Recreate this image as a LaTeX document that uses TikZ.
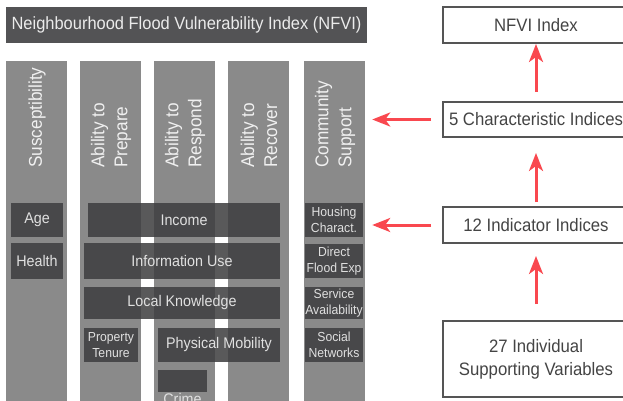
\documentclass[tikz,border=0pt]{standalone}
\usepackage{fontspec}
\setmainfont{Liberation Sans}[FakeStretch=0.93]
\usetikzlibrary{arrows.meta}
\definecolor{titlegray}{HTML}{535355}
\definecolor{colgray}{HTML}{8A8A8A}
\definecolor{boxgray}{HTML}{3E3E40}
\definecolor{framegray}{HTML}{555555}
\definecolor{txtgray}{HTML}{444444}
\definecolor{arrowred}{HTML}{F9484F}
\tikzset{
  col/.style={fill=colgray, draw=none, minimum width=61pt, minimum height=360pt, anchor=north, inner sep=0},
  coltext/.style={rotate=90, anchor=west, inner sep=0, text=white!94!black, align=left, font=\fontsize{18.5}{23}\selectfont},
  ibox/.style={fill=boxgray, fill opacity=0.86, text opacity=1, text=white!88!black, inner sep=0, align=center},
  bigtxt/.style={font=\fontsize{15.4}{19}\selectfont},
  smalltxt/.style={font=\fontsize{13.1}{16}\selectfont},
  rbox/.style={draw=framegray, line width=2pt, fill=white, text=txtgray, minimum width=186pt, inner sep=0, align=center, font=\fontsize{18}{23}\selectfont},
  redarrow/.style={draw=arrowred, line width=3pt, -{Stealth[length=18pt,width=14pt,inset=5pt]}}
}
\begin{document}
\begin{tikzpicture}[x=1pt,y=-1pt]
\useasboundingbox (0,0) rectangle (623,401);
\fill[white] (0,0) rectangle (623,401);
% title
\node[fill=titlegray, minimum width=361pt, minimum height=36pt, inner sep=0, text=white!92!black, font=\fontsize{17.7}{22}\selectfont] (title) at (186.5,25) {Neighbourhood Flood Vulnerability Index (NFVI)};
% columns
\node[col] (c1) at (36.5,61) {};
\node[col] (c2) at (110.5,61) {};
\node[col] (c3) at (184.5,61) {};
\node[col] (c4) at (258.5,61) {};
\node[col] (c5) at (334.5,61) {};
\node[coltext] (t1) at (37,168) {Susceptibility};
\node[coltext] (t2) at (111,168) {Ability to\\Prepare};
\node[coltext] (t3) at (185,168) {Ability to\\Respond};
\node[coltext] (t4) at (259,168) {Ability to\\Recover};
\node[coltext] (t5) at (335,168) {Community\\Support};
% inner boxes
\node[ibox, bigtxt, minimum width=52pt, minimum height=34pt] (age) at (37,220) {Age};
\node[ibox, bigtxt, minimum width=52pt, minimum height=36pt] (health) at (37,261) {Health};
\node[ibox, bigtxt, minimum width=192pt, minimum height=34pt] (income) at (184,220) {Income};
\node[ibox, bigtxt, minimum width=196pt, minimum height=36pt] (info) at (182,261) {Information Use};
\node[ibox, bigtxt, minimum width=196pt, minimum height=32pt] (local) at (182,303) {Local Knowledge};
\node[ibox, smalltxt, minimum width=54pt, minimum height=34pt] (tenure) at (111,345) {Property\\Tenure};
\node[ibox, bigtxt, minimum width=122pt, minimum height=34pt] (mobility) at (219,345) {Physical Mobility};
\node[ibox, minimum width=49pt, minimum height=22pt] (crimebox) at (182.5,381) {};
\node[inner sep=0, anchor=north, text=white!88!black, font=\fontsize{15.4}{19}\selectfont] (crime) at (182.5,393) {Crime};
\node[ibox, smalltxt, minimum width=58pt, minimum height=34pt] (housing) at (334,220) {Housing\\Charact.};
\node[ibox, smalltxt, minimum width=58pt, minimum height=34pt] (flood) at (334,261) {Direct\\Flood Exp};
\node[ibox, smalltxt, minimum width=58pt, minimum height=32pt] (service) at (334,303) {Service\\Availability};
\node[ibox, smalltxt, minimum width=58pt, minimum height=34pt] (social) at (334,345) {Social\\Networks};
% right boxes
\node[rbox, minimum height=36pt] (nfvi) at (536,25) {NFVI Index};
\node[rbox, minimum height=35pt] (five) at (536,119.5) {5 Characteristic Indices};
\node[rbox, minimum height=36pt] (twelve) at (536,225) {12 Indicator Indices};
\node[rbox, minimum height=76pt] (tws) at (536,359) {27 Individual\\Supporting Variables};
% arrows
\draw[redarrow, shorten <=9pt] (five.north) -- (nfvi.south);
\draw[redarrow, shorten <=4pt, shorten >=15pt] (twelve.north) -- (five.south);
\draw[redarrow, shorten <=16pt, shorten >=12pt] (tws.north) -- (twelve.south);
\draw[redarrow, shorten <=11pt, shorten >=7pt] (five.west) -- (five.west -| c5.east);
\draw[redarrow, shorten <=11pt, shorten >=7pt] (twelve.west) -- (twelve.west -| c5.east);
\end{tikzpicture}
\end{document}
